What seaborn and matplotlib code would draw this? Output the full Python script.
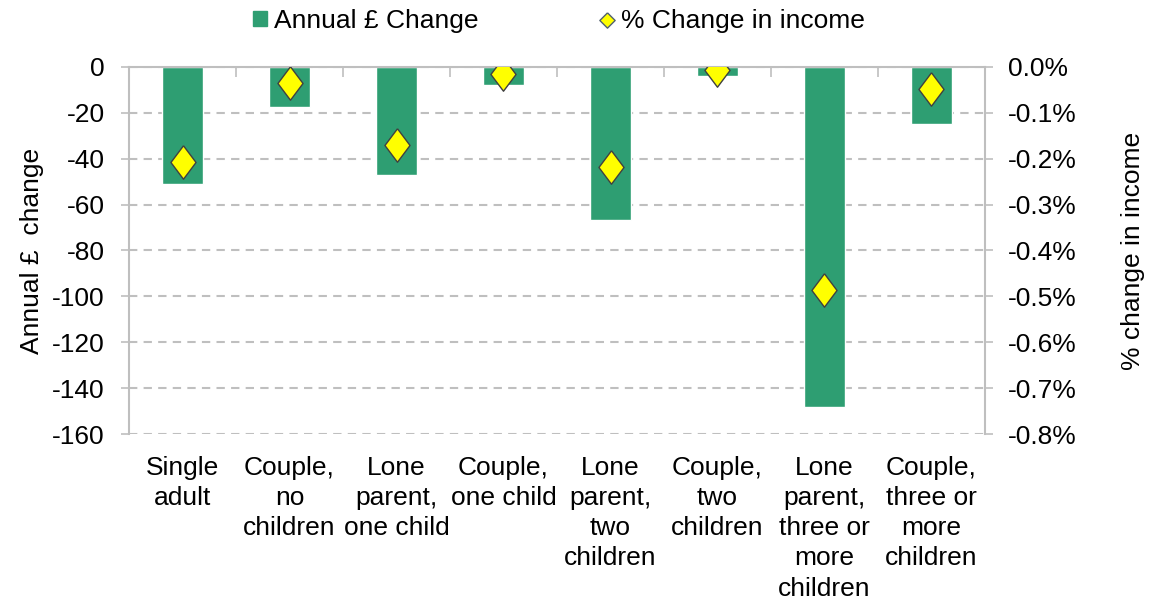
import numpy as np
import pandas as pd
import matplotlib
matplotlib.use("Agg")
import matplotlib.pyplot as plt
from matplotlib.patches import Patch
from matplotlib.lines import Line2D
from matplotlib.ticker import FuncFormatter, FixedLocator
import seaborn as sns

categories = ["Single\nadult", "Couple,\nno\nchildren", "Lone\nparent,\none child",
              "Couple,\none child", "Lone\nparent,\ntwo\nchildren", "Couple,\ntwo\nchildren",
              "Lone\nparent,\nthree or\nmore\nchildren", "Couple,\nthree or\nmore\nchildren"]
annual_change = [-51, -17.3, -47.2, -7.8, -66.9, -4.1, -148.1, -25.0]
pct_change = [-0.208, -0.035, -0.169, -0.015, -0.218, -0.007, -0.487, -0.048]
left_ticks = [0, -20, -40, -60, -80, -100, -120, -140, -160]
right_ticks = [0.0, -0.1, -0.2, -0.3, -0.4, -0.5, -0.6, -0.7, -0.8]

sns.set_theme(style="white")
plt.rcParams['font.family'] = ['Liberation Sans', 'DejaVu Sans']
plt.rcParams['axes.unicode_minus'] = False
plt.rcParams['text.color'] = 'black'
plt.rcParams['axes.labelcolor'] = 'black'
plt.rcParams['xtick.color'] = 'black'
plt.rcParams['ytick.color'] = 'black'
FS = 19

GREEN = "#2E9E72"
YELLOW = "#FFFF00"
GRID = "#BFBFBF"

df = pd.DataFrame({"cat": categories, "val": annual_change})

fig = plt.figure(figsize=(11.52, 6.02), dpi=100)
ax = fig.add_axes([129/1152, 1-434/602, (985-129)/1152, (434-67)/602])

sns.barplot(data=df, x="cat", y="val", color=GREEN, saturation=1, width=0.385, ax=ax)
ax.set_ylim(-160, 0)
ax.set_xlim(-0.5, len(categories)-0.5)
ax.yaxis.set_major_locator(FixedLocator(left_ticks))
ax.grid(axis="y", color=GRID, linestyle=(0, (4, 3)), linewidth=1.5)
ax.set_axisbelow(True)
ax.set_xlabel("")
ax.set_ylabel("Annual £  change", fontsize=FS, labelpad=6)

for s in ["left", "right", "top"]:
    ax.spines[s].set_visible(True)
    ax.spines[s].set_color(GRID)
    ax.spines[s].set_linewidth(1.5)
ax.spines["bottom"].set_visible(False)

ax.tick_params(axis="y", which="major", left=True, length=5.5, width=1.2, color=GRID,
               labelcolor="black", labelsize=FS, pad=12, direction="out")
ax.tick_params(axis="x", which="major", bottom=False, length=0, labelsize=FS,
               labelcolor="black", pad=16)
ax.set_xticks(range(len(categories)))
ax.set_xticklabels(categories, linespacing=1.32)
ax.set_xticks(np.arange(0.5, len(categories)-0.5, 1), minor=True)
ax.tick_params(axis="x", which="minor", top=True, bottom=False, direction="in",
               length=7, width=1.2, color=GRID)

ax2 = ax.twinx()
ax2.set_ylim(-0.8, 0.0)
ax2.yaxis.set_major_locator(FixedLocator(right_ticks))
ax2.yaxis.set_major_formatter(FuncFormatter(lambda v, p: f"{v:.1f}%"))
diamond = [(0, 1), (0.75, 0), (0, -1), (-0.75, 0), (0, 1)]
sns.scatterplot(x=np.arange(len(categories)), y=pct_change, marker=diamond, s=580,
                color=YELLOW, edgecolor="#404040", linewidth=1.0, ax=ax2, zorder=5)
ax2.grid(False)
for s in ["left", "right", "top", "bottom"]:
    ax2.spines[s].set_visible(False)
ax2.tick_params(axis="y", right=True, length=5.5, width=1.2, color=GRID,
                labelcolor="black", labelsize=FS, pad=11, direction="out")
ax2.set_ylabel("% change in income", fontsize=FS, labelpad=32)

leg_diamond = [(0, 1), (1, 0), (0, -1), (-1, 0), (0, 1)]
handles = [Patch(facecolor=GREEN, edgecolor=GREEN),
           Line2D([], [], marker=leg_diamond, markersize=11, linestyle="none",
                  markerfacecolor=YELLOW, markeredgecolor="#506070", markeredgewidth=1.0)]
fig.legend(handles, ["Annual £ Change", "% Change in income"], loc="center",
           bbox_to_anchor=(0.485, 0.965), ncol=2, frameon=False, fontsize=FS,
           handlelength=0.53, handleheight=0.53, handletextpad=0.27, columnspacing=4.6)

fig.savefig("out.png", dpi=100)
